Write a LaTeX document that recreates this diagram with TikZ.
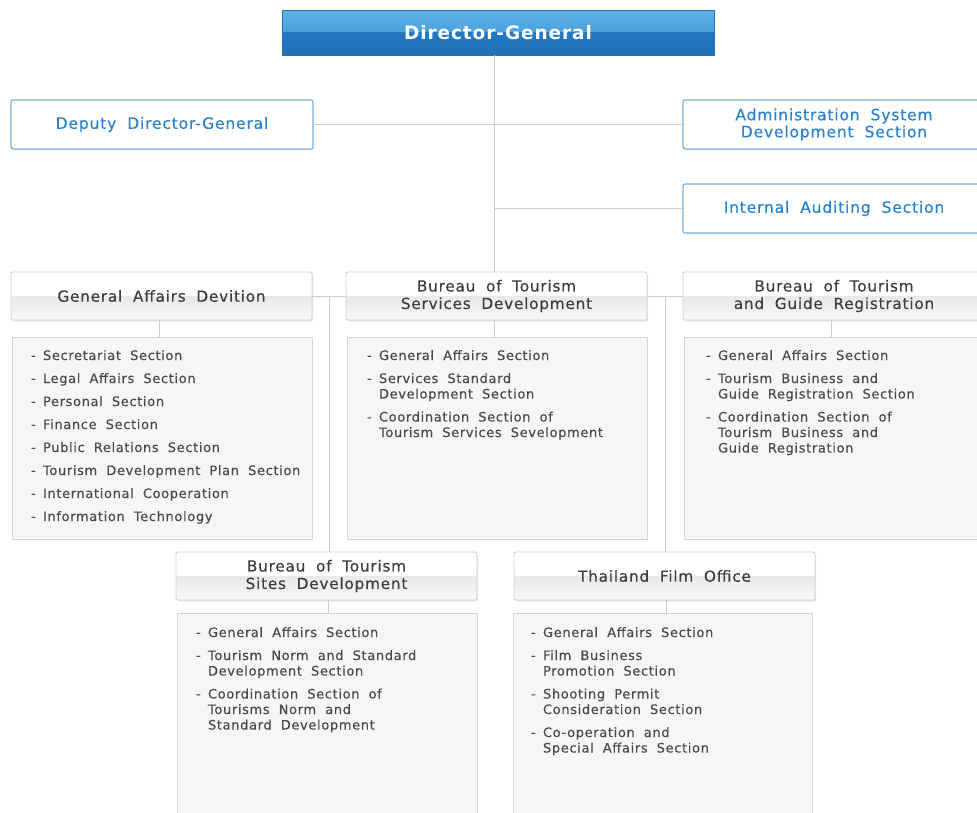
\documentclass[tikz,border=0pt]{standalone}
\usepackage{fontspec}
\usetikzlibrary{shadows}
\newfontfamily\orgfont[LetterSpace=5,WordSpace=1.9,FakeBold=0.35]{DejaVu Sans}
\newfontfamily\orgboldfont[LetterSpace=5]{DejaVu Sans Bold}

\definecolor{linegray}{HTML}{CCCCCC}
\definecolor{bluebrd}{HTML}{78B0E2}
\definecolor{bluetxt}{HTML}{2B82CC}
\definecolor{headbrd}{HTML}{CFCFCF}
\definecolor{headtxt}{HTML}{3E3E3E}
\definecolor{bodybrd}{HTML}{D6D6D6}
\definecolor{bodyfill}{HTML}{F6F6F6}
\definecolor{itemtxt}{HTML}{4A4A4A}
\definecolor{dgbrd}{HTML}{2A6EB0}
\definecolor{dgtopA}{HTML}{5DB0E6}
\definecolor{dgtopB}{HTML}{3A93D5}
\definecolor{dgbotA}{HTML}{2479C2}
\definecolor{dgbotB}{HTML}{1F70B6}
\definecolor{headA}{HTML}{E9E9E9}
\definecolor{headB}{HTML}{F8F8F8}

\tikzset{
  linkline/.style={draw=linegray, line width=1pt},
  anybox/.style={rectangle, inner sep=0pt, outer sep=0pt, align=center},
  dgbox/.style={anybox, draw=dgbrd, line width=1pt,
    minimum width=432pt, minimum height=45pt, text=white,
    font=\orgboldfont\fontsize{18.5}{20}\selectfont,
    path picture={
      \shade[top color=dgtopA, bottom color=dgtopB]
        (path picture bounding box.north west) rectangle (path picture bounding box.east);
      \shade[top color=dgbotA, bottom color=dgbotB]
        (path picture bounding box.west) rectangle (path picture bounding box.south east);
    }},
  bluebox/.style={anybox, draw=bluebrd, line width=1.2pt, fill=white,
    rounded corners=2pt, minimum width=302pt, minimum height=49pt,
    text=bluetxt, font=\orgfont\fontsize{15.6}{17}\selectfont,
    drop shadow={shadow xshift=1pt, shadow yshift=-1.5pt, opacity=0.12}},
  headbox/.style={anybox, draw=headbrd, line width=0.8pt, rounded corners=2pt,
    minimum width=301pt, minimum height=48pt,
    text=headtxt, font=\orgfont\fontsize{15.3}{17.5}\selectfont,
    drop shadow={shadow xshift=1.2pt, shadow yshift=-1.5pt, opacity=0.18},
    path picture={
      \fill[white] (path picture bounding box.north west) rectangle (path picture bounding box.east);
      \shade[top color=headA, bottom color=headB]
        (path picture bounding box.west) rectangle (path picture bounding box.south east);
    }},
  bodybox/.style={anybox, draw=bodybrd, line width=0.8pt, fill=bodyfill,
    minimum width=300pt},
  itemlist/.style={anchor=base west, inner sep=0pt, outer sep=0pt, text=itemtxt,
    font=\orgfont\fontsize{13}{15.5}\selectfont}
}

\newcommand\orgitem[1]{-&#1\\[7.5pt]}
\newenvironment{orglist}{\begin{tabular}[t]{@{}p{12pt}@{}l@{}}}{\end{tabular}}

\begin{document}
\begin{tikzpicture}[x=1pt, y=-1pt]
  \useasboundingbox (0,0) rectangle (977,812);
  \clip (0,0) rectangle (977,812);

  % trunk and junction points of the connector lines
  \coordinate (trunk) at (494,0);
  \coordinate (jleft) at (329,296);
  \coordinate (jright) at (665,296);

  % top level
  \node[dgbox] (dg) at (498,32.5) {Director-General};
  \node[bluebox] (dep) at (162,124.5) {Deputy Director-General};
  \node[bluebox] (asd) at (834,124.5) {Administration System\\Development Section};
  \node[bluebox] (ias) at (834,208.5) {Internal Auditing Section};

  % first row of bureaus
  \node[headbox] (ga)  at (161.5,296) {General Affairs Devition};
  \node[headbox] (bts) at (496.5,296) {Bureau of Tourism\\Services Development};
  \node[headbox, minimum width=302pt] (bgr) at (834,296) {Bureau of Tourism\\and Guide Registration};

  \node[bodybox, minimum height=202pt] (gab)  at (162,438) {};
  \node[bodybox, minimum height=202pt] (btsb) at (497,438) {};
  \node[bodybox, minimum height=202pt, minimum width=302pt] (bgrb) at (835,438) {};

  % second row of bureaus
  \node[headbox] (sites) at (326.5,576) {Bureau of Tourism\\Sites Development};
  \node[headbox] (film)  at (664.5,576) {Thailand Film Office};

  \node[bodybox, minimum height=217pt] (sitesb) at (327,721.5) {};
  \node[bodybox, minimum height=217pt, minimum width=299pt] (filmb) at (662.5,721.5) {};

  % connectors
  \draw[linkline] (dg.south -| trunk) -- (bts.north -| trunk);
  \draw[linkline] (dep.east) -- (asd.west);
  \draw[linkline] (trunk |- ias.west) -- (ias.west);
  \draw[linkline] (ga.east) -- (bts.west);
  \draw[linkline] (bts.east) -- (bgr.west);
  \draw[linkline] (jleft) -- (jleft |- sites.north);
  \draw[linkline] (jright) -- (jright |- film.north);
  \draw[linkline] ([xshift=-2.5pt]ga.south) -- ([xshift=-2.5pt]ga.south |- gab.north);
  \draw[linkline] ([xshift=-2.5pt]bts.south) -- ([xshift=-2.5pt]bts.south |- btsb.north);
  \draw[linkline] ([xshift=-3pt]bgr.south) -- ([xshift=-3pt]bgr.south |- bgrb.north);
  \draw[linkline] ([xshift=1.5pt]sites.south) -- ([xshift=1.5pt]sites.south |- sitesb.north);
  \draw[linkline] ([xshift=1.5pt]film.south) -- ([xshift=1.5pt]film.south |- filmb.north);

  % section lists
  \node[itemlist] (gal) at (31,360) {\begin{orglist}
    \orgitem{Secretariat Section}
    \orgitem{Legal Affairs Section}
    \orgitem{Personal Section}
    \orgitem{Finance Section}
    \orgitem{Public Relations Section}
    \orgitem{Tourism Development Plan Section}
    \orgitem{International Cooperation}
    -&Information Technology
  \end{orglist}};

  \node[itemlist] (btsl) at (367,360) {\begin{orglist}
    \orgitem{General Affairs Section}
    \orgitem{Services Standard\\&Development Section}
    -&Coordination Section of\\&Tourism Services Sevelopment
  \end{orglist}};

  \node[itemlist] (bgrl) at (706,360) {\begin{orglist}
    \orgitem{General Affairs Section}
    \orgitem{Tourism Business and\\&Guide Registration Section}
    -&Coordination Section of\\&Tourism Business and\\&Guide Registration
  \end{orglist}};

  \node[itemlist] (sitesl) at (196,637) {\begin{orglist}
    \orgitem{General Affairs Section}
    \orgitem{Tourism Norm and Standard\\&Development Section}
    -&Coordination Section of\\&Tourisms Norm and\\&Standard Development
  \end{orglist}};

  \node[itemlist] (filml) at (531,637) {\begin{orglist}
    \orgitem{General Affairs Section}
    \orgitem{Film Business\\&Promotion Section}
    \orgitem{Shooting Permit\\&Consideration Section}
    -&Co-operation and\\&Special Affairs Section
  \end{orglist}};
\end{tikzpicture}
\end{document}
